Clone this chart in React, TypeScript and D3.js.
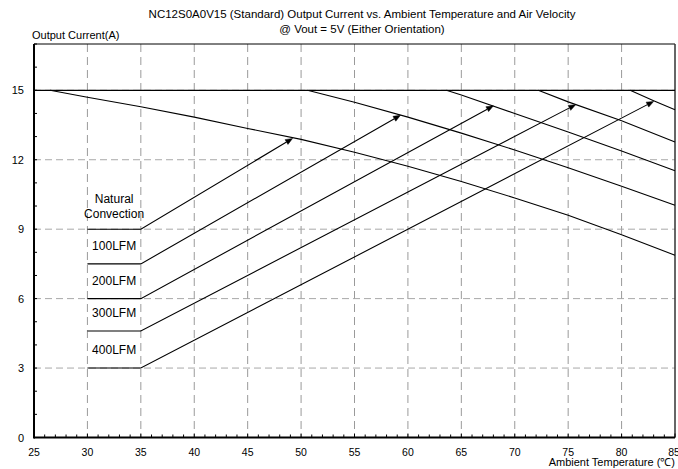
import React from "react";
import * as d3 from "d3";

const W = 678;
const H = 469;

const titleLines = [
  "NC12S0A0V15 (Standard) Output Current vs. Ambient Temperature and Air Velocity",
  "@ Vout = 5V (Either Orientation)",
];
const yAxisTitle = "Output Current(A)";
const xAxisTitle = "Ambient Temperature (\u2103)";

const xTicks = [25, 30, 35, 40, 45, 50, 55, 60, 65, 70, 75, 80, 85];
const yTicks = [0, 3, 6, 9, 12, 15];

// max current line
const maxCurrent = 15;

// derating curves (temperature, current)
const ncCurve: [number, number][] = [
  [26.5, 15], [30, 14.7], [35, 14.29], [40, 13.84], [45, 13.35], [50, 12.88],
  [55, 12.32], [60, 11.72], [65, 11.06], [70, 10.35], [75, 9.6], [80, 8.76], [85, 7.87],
];
const lfm100Curve: [number, number][] = [
  [50.6, 15], [55, 14.48], [60, 13.84], [65, 13.15], [70, 12.42], [75, 11.65], [80, 10.85], [85, 10.03],
];
const lfm200Curve: [number, number][] = [
  [63.6, 15], [65, 14.8], [70, 14.0], [75, 13.2], [80, 12.38], [85, 11.52],
];
const lfm300Curve: [number, number][] = [
  [72.2, 15], [75, 14.5], [80, 13.68], [85, 12.77],
];
const lfm400Curve: [number, number][] = [
  [80.8, 15], [83, 14.55], [85, 14.16],
];

// indicator arrows: label, starting level (at 30..35), arrow tip
const arrowLabels = [["Natural", "Convection"], ["100LFM"], ["200LFM"], ["300LFM"], ["400LFM"]];
const arrowLevels = [9, 7.5, 6, 4.6, 3];
const arrowTipX = [49.2, 59.3, 68.0, 75.7, 83.0];
const arrowTipY = [12.92, 13.92, 14.33, 14.38, 14.52];
const segStart = 30;
const segEnd = 35;

const FONT = "'Liberation Sans', Arial, Helvetica, sans-serif";

export default function App() {
  const x = d3.scaleLinear().domain([25, 85]).range([34, 675]);
  const y = d3.scaleLinear().domain([0, 17]).range([437.5, 44]);
  const line = d3.line<[number, number]>().x((d) => x(d[0])).y((d) => y(d[1]));

  const minorX = d3.range(25, 86, 1);
  const minorY = d3.range(0, 18, 1);
  const [x0, x1] = x.range();
  const [y0, y1] = y.range();

  const curves = [ncCurve, lfm100Curve, lfm200Curve, lfm300Curve, lfm400Curve];

  return (
    <svg
      width={W}
      height={H}
      style={{ position: "absolute", left: 0, top: 0, background: "#fff" }}
      fontFamily={FONT}
    >
      <rect x={0} y={0} width={W} height={H} fill="#fff" />
      {/* titles */}
      <text x={362} y={18} textAnchor="middle" fontSize={11.5} fill="#000">{titleLines[0]}</text>
      <text x={362} y={33} textAnchor="middle" fontSize={11.5} fill="#000">{titleLines[1]}</text>
      <text x={32} y={39} fontSize={11} fill="#000">{yAxisTitle}</text>

      {/* grid */}
      {xTicks.filter((t) => t > 25 && t < 85).map((t) => (
        <line key={"gx" + t} x1={x(t)} x2={x(t)} y1={y1} y2={y0} stroke="#9a9a9a" strokeWidth={1} strokeDasharray="8,5" />
      ))}
      {yTicks.filter((t) => t > 0).map((t) => (
        <line key={"gy" + t} x1={x0} x2={x1} y1={y(t)} y2={y(t)} stroke="#a8a8a8" strokeWidth={1} strokeDasharray="7,4" />
      ))}

      {/* frame */}
      <line x1={x0} x2={x1} y1={y1} y2={y1} stroke="#000" strokeWidth={1} />
      <line x1={x1} x2={x1} y1={y1} y2={y0} stroke="#333" strokeWidth={1.5} />

      {/* minor ticks */}
      {minorX.map((t) => (
        <line key={"tx" + t} x1={x(t)} x2={x(t)} y1={y0} y2={y0 - (t % 5 === 0 ? 4 : 3)} stroke="#000" strokeWidth={1} />
      ))}
      {minorY.map((t) => (
        <line key={"ty" + t} x1={x0} x2={x0 + 3} y1={y(t)} y2={y(t)} stroke="#000" strokeWidth={1} />
      ))}

      {/* axes */}
      <line x1={x0} x2={x0} y1={y1} y2={y0 + 1} stroke="#000" strokeWidth={2} />
      <line x1={x0} x2={x1} y1={y0} y2={y0} stroke="#000" strokeWidth={2} />

      {/* tick labels */}
      {xTicks.map((t) => (
        <text key={"lx" + t} x={x(t) - (t === 85 ? 1 : 0)} y={456} textAnchor="middle" fontSize={10.5} fill="#000">{t}</text>
      ))}
      {yTicks.map((t) => (
        <text key={"ly" + t} x={24} y={y(t) + 4} textAnchor="end" fontSize={11} fill="#000">{t}</text>
      ))}
      <text x={675} y={466} textAnchor="end" fontSize={11} fill="#000">{xAxisTitle}</text>

      {/* max current line */}
      <line x1={x0} x2={x1} y1={y(maxCurrent)} y2={y(maxCurrent)} stroke="#000" strokeWidth={1.2} />

      {/* derating curves */}
      {curves.map((c, i) => (
        <path key={"c" + i} d={line(c) || ""} fill="none" stroke="#000" strokeWidth={1.1} />
      ))}

      {/* indicator arrows */}
      {arrowLevels.map((lv, i) => {
        const sx = x(segStart), ex = x(segEnd), ly = y(lv);
        const tx = x(arrowTipX[i]), ty = y(arrowTipY[i]);
        const dx = tx - ex, dy = ty - ly;
        const len = Math.hypot(dx, dy);
        const ux = dx / len, uy = dy / len;
        const hl = 7, hw = 2.8;
        const bx = tx - ux * hl, by = ty - uy * hl;
        const px = -uy, py = ux;
        const head = `M${tx},${ty}L${bx + px * hw},${by + py * hw}L${bx - px * hw},${by - py * hw}Z`;
        const labels = arrowLabels[i];
        const cx = x((segStart + segEnd) / 2);
        return (
          <g key={"a" + i}>
            <path d={`M${sx},${ly}L${ex},${ly}L${bx},${by}`} fill="none" stroke="#000" strokeWidth={1.1} />
            <path d={head} fill="#000" stroke="#000" strokeWidth={0.5} />
            {labels.map((lb, j) => (
              <text
                key={lb}
                x={cx}
                y={ly - (labels.length === 2 ? 11 + (labels.length - 1 - j) * 15 : 14)}
                textAnchor="middle"
                fontSize={12}
                fill="#000"
              >
                {lb}
              </text>
            ))}
          </g>
        );
      })}
    </svg>
  );
}
